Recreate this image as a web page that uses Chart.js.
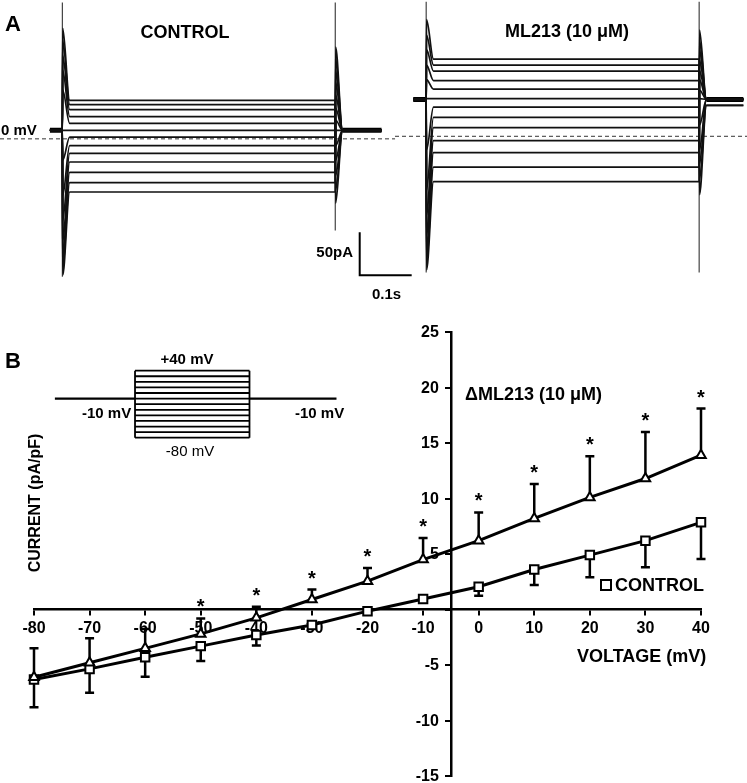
<!DOCTYPE html>
<html>
<head>
<meta charset="utf-8">
<script src="https://cdn.jsdelivr.net/npm/chart.js@4.4.1/dist/chart.umd.min.js"></script>
<style>
  body { margin: 0; background: #fff; overflow: hidden; }
  #fig { position: relative; width: 747px; height: 783px; overflow: hidden;
         font-family: "Liberation Sans", Arial, sans-serif; font-weight: bold; color: #000; }
  canvas { position: absolute; }
  .lbl { position: absolute; line-height: 1; white-space: nowrap; transform: translateY(-50%); }
  .ctr { transform: translate(-50%, -50%); }
</style>
</head>
<body>
<div id="fig">
  <canvas id="ctrl" width="420" height="300" style="left:0px;top:0px"></canvas>
  <canvas id="ml" width="352" height="300" style="left:395px;top:0px"></canvas>
  <canvas id="iv" width="747" height="500" style="left:0px;top:300px"></canvas>
  <canvas id="prot" width="310" height="100" style="left:40px;top:350px"></canvas>

  <div class="lbl" style="left:5px;top:24px;font-size:22px">A</div>
  <div class="lbl ctr" style="left:185px;top:32px;font-size:18px">CONTROL</div>
  <div class="lbl ctr" style="left:567px;top:31px;font-size:18px">ML213 (10 μM)</div>
  <div class="lbl" style="left:1px;top:129px;font-size:15px">0 mV</div>
  <div class="lbl" style="right:394px;top:251px;font-size:15px">50pA</div>
  <div class="lbl" style="left:372px;top:293px;font-size:15px">0.1s</div>

  <div class="lbl" style="left:5px;top:361px;font-size:22px">B</div>
  <div class="lbl ctr" style="left:187px;top:358px;font-size:15px">+40 mV</div>
  <div class="lbl" style="left:82px;top:412px;font-size:15px">-10 mV</div>
  <div class="lbl" style="left:295px;top:412px;font-size:15px">-10 mV</div>
  <div class="lbl ctr" style="left:190px;top:450px;font-size:15px;font-weight:normal">-80 mV</div>

  <div class="lbl" style="left:465px;top:394px;font-size:18px">ΔML213 (10 μM)</div>
  <div style="position:absolute;left:600px;top:579px;width:8px;height:8px;border:2px solid #000"></div>
  <div class="lbl" style="left:615px;top:585px;font-size:18px">CONTROL</div>
  <div class="lbl" style="left:577px;top:656px;font-size:18px">VOLTAGE (mV)</div>
  <div class="lbl ctr" style="left:35px;top:503px;font-size:16px;transform:translate(-50%,-50%) rotate(-90deg)">CURRENT (pA/pF)</div>
</div>

<script>
// ---- Panel B: I-V relation (mV, pA/pF) ----
const voltages = [-80, -70, -60, -50, -40, -30, -20, -10, 0, 10, 20, 30, 40];
const control = [-6.3, -5.35, -4.3, -3.3, -2.3, -1.4, -0.15, 0.95, 2.05, 3.6, 4.9, 6.2, 7.85];
const controlErr = [2.5, 2.15, 1.75, 1.35, 0.95, 0.3, 0.2, 0.3, 0.8, 1.4, 2.0, 2.4, 3.3];
const ml213 = [-6.1, -4.8, -3.5, -2.2, -0.75, 0.9, 2.55, 4.5, 6.2, 8.2, 10.1, 11.8, 13.9];
const ml213Err = [2.6, 2.2, 1.75, 1.4, 1.0, 0.9, 1.2, 1.95, 2.55, 3.1, 3.7, 4.2, 4.2];
const ml213Sig = [0, 0, 0, 1, 1, 1, 1, 1, 1, 1, 1, 1, 1];
const xTicks = [-80, 40, 10];   // min, max, step
const yTicks = [-15, 25, 5];

// ---- Voltage protocol (inset) ----
const holdingMv = -10;
const protTimes = [-350, 0, 500, 880];   // holding start, step on, step off, holding end

// ---- Panel A: current traces (ms, pA; 0 pA at dashed line) ----
const stepOn = 0, stepOff = 525;
const scaleBar = { t: 572, i: -159, dt: 100, di: 50 };   // 0.1 s, 50 pA

const ctrlHold = 10;
const ctrlSpan = [-24, 614];
const ctrlLevel = [45, 40, 34, 26, 18, 10, 2, -8, -17, -27, -39, -51, -62];
const ctrlOnPeak = [129, 115, 97, 80, 57, 10, -25, -66, -95, -118, -136, -148, -159];
const ctrlOffPeak = [-75, -60, -43, -25, -8, 10, 22, 36, 51, 66, 80, 94, 107];
const ctrlTail = [10, 10, 10, 10, 10, 10, 10, 10, 10, 10, 10, 10, 10];
const ctrlArtifact = [159, -161, -107];   // top, bottom at step on, bottom at step off

const mlHold = 43;
const mlSpan = [-25, 610];
const mlLevel = [90, 83, 76, 65, 55, 44, 34, 22, 10, -5, -19, -36, -53];
const mlOnPeak = [136, 118, 101, 83, 66, 44, -16, -63, -92, -115, -133, -144, -156];
const mlOffPeak = [-68, -51, -33, -16, 13, 44, 54, 66, 77, 89, 101, 112, 124];
const mlTail = [36, 36, 43, 43, 43, 43, 43, 43, 43, 43, 43, 43, 43];
const mlArtifact = [157, -159, -159];

Chart.defaults.animation = false;
Chart.defaults.font.family = '"Liberation Sans", Arial, sans-serif';
Chart.defaults.color = '#000';
const noPlugins = { legend: { display: false }, tooltip: { enabled: false } };

function tracePoints(hold, on, level, off, tail, span) {
  return [
    { x: span[0], y: hold }, { x: stepOn, y: hold }, { x: stepOn + 0.6, y: on },
    { x: stepOn + 14, y: level }, { x: stepOff, y: level }, { x: stepOff + 0.6, y: off },
    { x: stepOff + 14, y: tail }, { x: span[1], y: tail }
  ];
}

function tracesChart(id, xr, yr, hold, span, level, on, off, tail, art, extra) {
  const ds = level.map((l, k) => ({
    data: tracePoints(hold, on[k], l, off[k], tail[k], span),
    borderColor: '#111', borderWidth: 1.7, pointRadius: 0, cubicInterpolationMode: 'monotone'
  }));
  ds.push({
    data: [{ x: span[0], y: hold }, { x: stepOn, y: hold }, { x: stepOn + 1, y: null },
           { x: stepOff + 14, y: hold }, { x: span[1], y: hold }],
    borderColor: '#000', borderWidth: 5, pointRadius: 0, spanGaps: false
  });
  ds.push({
    data: [{ x: stepOn, y: art[0] }, { x: stepOn, y: art[1] }, { x: stepOn + 1, y: null },
           { x: stepOff, y: art[0] }, { x: stepOff, y: art[2] }],
    borderColor: '#444', borderWidth: 1.2, pointRadius: 0, spanGaps: false
  });
  ds.push({
    data: [{ x: xr[0], y: 0 }, { x: xr[2], y: 0 }],
    borderColor: '#333', borderWidth: 1, borderDash: [4, 3], pointRadius: 0
  });
  if (extra) ds.push(extra);
  return new Chart(document.getElementById(id), {
    type: 'line',
    data: { datasets: ds },
    options: {
      responsive: false, layout: { padding: 0 }, plugins: noPlugins,
      scales: {
        x: { type: 'linear', min: xr[0], max: xr[1], display: false },
        y: { type: 'linear', min: yr[0], max: yr[1], display: false }
      }
    }
  });
}

const barSet = {
  data: [{ x: scaleBar.t, y: scaleBar.i + scaleBar.di }, { x: scaleBar.t, y: scaleBar.i },
         { x: scaleBar.t + scaleBar.dt, y: scaleBar.i }],
  borderColor: '#000', borderWidth: 2, pointRadius: 0
};
tracesChart('ctrl', [-120, 688, 640], [-188, 162], ctrlHold, ctrlSpan,
            ctrlLevel, ctrlOnPeak, ctrlOffPeak, ctrlTail, ctrlArtifact, barSet);
tracesChart('ml', [-60, 617, 617], [-191, 159], mlHold, mlSpan,
            mlLevel, mlOnPeak, mlOffPeak, mlTail, mlArtifact, null);

// protocol inset
const protData = [];
voltages.forEach(v => {
  protData.push({ x: protTimes[1], y: v }, { x: protTimes[2], y: v }, { x: protTimes[2], y: null });
});
[protTimes[1], protTimes[2]].forEach(t => {
  protData.push({ x: t, y: voltages[0] }, { x: t, y: voltages[voltages.length - 1] }, { x: t, y: null });
});
new Chart(document.getElementById('prot'), {
  type: 'line',
  data: { datasets: [
    { data: protData, borderColor: '#000', borderWidth: 1.8, pointRadius: 0, spanGaps: false },
    { data: [{ x: protTimes[0], y: holdingMv }, { x: protTimes[1], y: holdingMv }, { x: protTimes[1], y: null },
             { x: protTimes[2], y: holdingMv }, { x: protTimes[3], y: holdingMv }],
      borderColor: '#000', borderWidth: 2.3, pointRadius: 0, spanGaps: false }
  ] },
  options: {
    responsive: false, layout: { padding: 0 }, plugins: noPlugins,
    scales: {
      x: { type: 'linear', min: -415, max: 939, display: false },
      y: { type: 'linear', min: -102, max: 77, display: false }
    }
  }
});

// I-V chart: y tick labels and error bars under the lines, asterisks on top
const ivExtras = {
  id: 'ivExtras',
  beforeDatasetsDraw(chart) {
    const { ctx, scales: { x, y } } = chart;
    ctx.save();
    // y tick labels, to the left of the crossing axis
    const axisX = x.getPixelForValue(y.options.position.x);
    ctx.fillStyle = '#000';
    ctx.font = 'bold 16px "Liberation Sans", Arial, sans-serif';
    ctx.textAlign = 'right';
    ctx.textBaseline = 'middle';
    y.ticks.forEach(t => {
      if (t.value !== 0) ctx.fillText(String(t.value), axisX - 12, y.getPixelForValue(t.value) + 1);
    });
    ctx.strokeStyle = '#000';
    ctx.lineWidth = 2.5;
    const bar = (v, from, to) => {
      const px = x.getPixelForValue(v), y0 = y.getPixelForValue(from), y1 = y.getPixelForValue(to);
      ctx.beginPath();
      ctx.moveTo(px, y0); ctx.lineTo(px, y1);
      ctx.moveTo(px - 4.5, y1); ctx.lineTo(px + 4.5, y1);
      ctx.stroke();
    };
    voltages.forEach((v, i) => {
      bar(v, ml213[i], ml213[i] + ml213Err[i]);
      bar(v, control[i], control[i] - controlErr[i]);
    });
    ctx.restore();
  },
  afterDatasetsDraw(chart) {
    const { ctx, scales: { x, y } } = chart;
    ctx.save();
    ctx.fillStyle = '#000';
    ctx.font = 'bold 20px "Liberation Sans", Arial, sans-serif';
    ctx.textAlign = 'center';
    ctx.textBaseline = 'alphabetic';
    voltages.forEach((v, i) => {
      if (ml213Sig[i]) ctx.fillText('*', x.getPixelForValue(v), y.getPixelForValue(ml213[i] + ml213Err[i]) - 5);
    });
    ctx.restore();
  }
};

const tickFont = { size: 16, weight: 'bold' };
new Chart(document.getElementById('iv'), {
  type: 'line',
  data: { datasets: [
    { label: 'ML213 (10 μM)', data: voltages.map((v, i) => ({ x: v, y: ml213[i] })), clip: false,
      borderColor: '#000', borderWidth: 3, pointStyle: 'triangle', pointRadius: 5.5,
      pointBorderWidth: 2, pointBackgroundColor: '#fff', pointBorderColor: '#000' },
    { label: 'CONTROL', data: voltages.map((v, i) => ({ x: v, y: control[i] })), clip: false,
      borderColor: '#000', borderWidth: 3, pointStyle: 'rect', pointRadius: 6,
      pointBorderWidth: 2, pointBackgroundColor: '#fff', pointBorderColor: '#000' }
  ] },
  options: {
    responsive: false, plugins: noPlugins,
    layout: { padding: { left: 34, right: 46, top: 32, bottom: 24 } },
    scales: {
      x: { type: 'linear', min: xTicks[0], max: xTicks[1], position: { y: 0 },
           ticks: { stepSize: xTicks[2], font: tickFont, color: '#000', autoSkip: false, maxRotation: 0, padding: 4 },
           grid: { drawOnChartArea: false, tickLength: 5, color: '#000', lineWidth: 2 },
           border: { color: '#000', width: 2.5 } },
      y: { type: 'linear', min: yTicks[0], max: yTicks[1], position: { x: -5 },
           ticks: { stepSize: yTicks[2], display: false },
           grid: { drawOnChartArea: false, tickLength: 5, color: '#000', lineWidth: 2 },
           border: { color: '#000', width: 2.5 } }
    }
  },
  plugins: [ivExtras]
});
</script>
</body>
</html>
